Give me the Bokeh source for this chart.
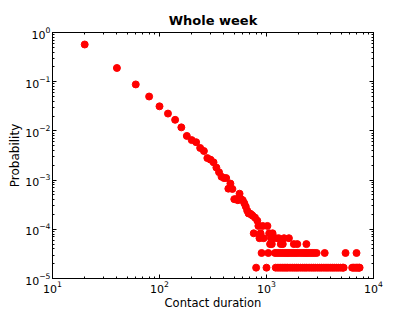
from bokeh.plotting import figure
from bokeh.models import Range1d, LogAxis, LogTicker, ColumnDataSource, CustomJSTickFormatter
from bokeh.embed import file_html
from bokeh.resources import INLINE

# Head of the distribution (contact duration in seconds, probability)
head_duration = [20, 40, 60, 80, 100, 120, 140, 160, 180, 200, 220, 240, 260, 280,
                 300, 320, 340, 360, 380, 400, 420, 440, 460, 480, 500, 520, 540,
                 560, 580, 600, 620, 640, 660, 680, 700, 720, 740, 780]
head_prob = [0.57, 0.19, 0.088, 0.050, 0.0316, 0.0225, 0.0168, 0.0118, 0.0079,
             0.0065, 0.0059, 0.0045, 0.0039, 0.0028, 0.0026, 0.0023, 0.0018,
             0.00145, 0.00117, 0.0011, 0.0011, 0.00067, 0.00085, 0.00066,
             0.00041, 0.00041, 0.00039, 0.00053, 0.00041, 0.00039, 0.00034,
             0.00029, 0.00024, 0.00021, 0.00021, 0.0002, 0.00019, 0.000173]

# Tail: durations observed at each low probability level
tail_duration_150 = [820]
tail_duration_117 = [840, 920, 1020]
tail_duration_83 = [760, 880, 1060, 1140]
tail_duration_66 = [860, 940, 1100, 1220, 1300, 1460, 1620]
tail_duration_50 = [1080, 1120, 1360, 1420, 1800, 1940, 2360]
tail_duration_33 = [900, 1040, 1200, 1260, 1320, 1380, 1440, 1500, 1560, 1620,
                    1700, 1780, 1860, 1940, 2040, 2140, 2240, 2340, 2440, 2560,
                    2680, 2800, 2940, 3500, 5480, 6940]
tail_duration_17 = [800, 1000, 1220, 1280, 1340, 1400, 1460, 1520, 1580, 1660,
                    1740, 1820, 1900, 1980, 2080, 2180, 2280, 2380, 2500, 2620,
                    2740, 2860, 3000, 3140, 3280, 3440, 3600, 3760, 3940, 4120,
                    4300, 4500, 4700, 4920, 5140, 5260, 6320, 6520, 6720, 6920,
                    7120, 7320, 7420]
tail_levels = [1.5e-4, 1.17e-4, 8.3e-5, 6.6e-5, 5.0e-5, 3.3e-5, 1.66e-5]

tails = [tail_duration_150, tail_duration_117, tail_duration_83, tail_duration_66,
         tail_duration_50, tail_duration_33, tail_duration_17]
xs = list(head_duration)
ys = list(head_prob)
for lst, lev in zip(tails, tail_levels):
    xs += lst
    ys += [lev] * len(lst)
src = ColumnDataSource(dict(x=xs, y=ys))

FONT = "DejaVu Sans"

p = figure(width=400, height=312, x_axis_type="log", y_axis_type="log",
           x_range=Range1d(10, 10000), y_range=Range1d(1e-5, 1),
           output_backend="svg", toolbar_location=None,
           min_border_left=52, min_border_right=27, min_border_top=32,
           min_border_bottom=31)
p.background_fill_color = "white"
p.border_fill_color = "white"
p.outline_line_color = "black"
p.outline_line_width = 1
p.grid.visible = False

p.title.text = "Whole week"
p.title.align = "center"
p.title.text_font = FONT
p.title.text_font_style = "bold"
p.title.text_font_size = "13px"
p.title.text_color = "black"
p.title.standoff = 1

for ax in p.xaxis + p.yaxis:
    ax.ticker = LogTicker(num_minor_ticks=10)
    ax.axis_line_color = None
    ax.major_tick_in = 4
    ax.major_tick_out = 0
    ax.minor_tick_in = 2
    ax.minor_tick_out = 0
    ax.major_label_text_font = FONT
    ax.major_label_text_font_size = "11px"
    ax.major_label_text_color = "black"
    ax.axis_label_text_font = FONT
    ax.axis_label_text_font_style = "normal"
    ax.axis_label_text_color = "black"
    ax.major_label_standoff = 2
    ax.axis_label_standoff = 0

p.xaxis.axis_label = "Contact duration"
p.xaxis.axis_label_text_font_size = "11.5px"
p.yaxis.axis_label = "Probability"
p.yaxis.axis_label_text_font_size = "12px"

for loc in ("above", "right"):
    ax = LogAxis(ticker=LogTicker(num_minor_ticks=10),
                 formatter=CustomJSTickFormatter(code="return ' '"))
    ax.axis_line_color = None
    ax.major_tick_in = 4
    ax.major_tick_out = 0
    ax.minor_tick_in = 2
    ax.minor_tick_out = 0
    ax.major_label_text_font_size = "1px"
    ax.major_label_standoff = 0
    ax.axis_label_standoff = 0
    p.add_layout(ax, loc)

p.scatter("x", "y", source=src, size=7, fill_color="red", line_color="red")

open("out.html", "w").write(file_html(p, INLINE))
